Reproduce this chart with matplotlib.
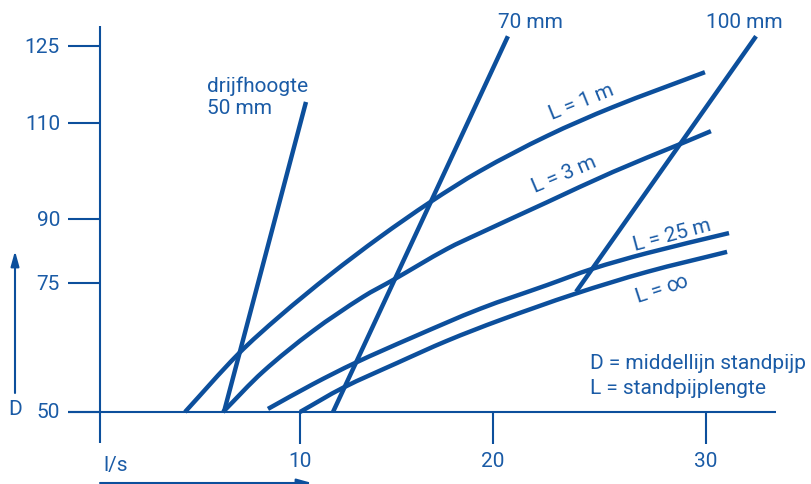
import numpy as np
import matplotlib
matplotlib.use("Agg")
import matplotlib.pyplot as plt
from matplotlib.lines import Line2D
from matplotlib.path import Path
from matplotlib.patches import PathPatch
from matplotlib.transforms import IdentityTransform

plt.rcParams['font.family'] = ['Roboto', 'DejaVu Sans']

# ---------------- data ----------------
x_ticks = [10, 20, 30]
y_ticks = [50, 75, 90, 110, 125]

# drijfhoogte lines (l/s, D)
h50_x = [6.06, 10.31]
h50_y = [50, 114.1]
h70_x = [11.71, 20.70]
h70_y = [50, 126.9]
h100_x = [23.90, 32.35]
h100_y = [73.3, 126.9]

# standpipe length curves
L1_x = [4.04, 6.79, 8.96, 11.55, 14.15, 16.74, 19.33, 22.54, 25.63, 29.95]
L1_y = [50, 61.2, 68.6, 76.9, 85.8, 93.5, 100.0, 107.3, 113.1, 119.9]
L3_x = [6.01, 8.08, 10.67, 13.26, 14.82, 17.62, 19.33, 22.54, 25.63, 28.78, 30.23]
L3_y = [50, 57.8, 65.7, 72.3, 75.7, 83.0, 86.7, 93.5, 99.8, 105.6, 108.3]
L25_x = [8.34, 10.67, 12.85, 15.85, 19.33, 22.54, 24.65, 27.23, 31.08]
L25_y = [50.6, 55.4, 59.5, 64.5, 70.0, 74.6, 78.3, 82.0, 86.7]
Linf_x = [10.0, 12.23, 15.03, 17.62, 20.33, 23.85, 27.23, 30.99]
Linf_y = [50, 54.7, 59.5, 63.8, 67.8, 72.9, 77.6, 82.3]

# ---------------- layout ----------------
W, H = 812, 485
LINE = '#0c4f9c'
TXT = '#1a5ba6'
FS = 15

# piecewise-linear axis scales (tick value -> pixel)
x_knots_px = [300, 493, 706]
y_knots_px = [413, 284, 220, 124, 47]


def make_pw(d, p):
    d = np.asarray(d, float)
    p = np.asarray(p, float)

    def f(v):
        v = np.asarray(v, float)
        out = np.interp(v, d, p)
        out = np.where(v < d[0], p[0] + (v - d[0]) * (p[1] - p[0]) / (d[1] - d[0]), out)
        out = np.where(v > d[-1], p[-1] + (v - d[-1]) * (p[-1] - p[-2]) / (d[-1] - d[-2]), out)
        return out
    return f


xd = np.array(x_ticks, float)
xp = np.array(x_knots_px, float)
yd = np.array(y_ticks, float)
yp = H - np.array(y_knots_px, float)  # display (upward)

xf, xi = make_pw(xd, xp), make_pw(xp, xd)
yf, yi = make_pw(yd, yp), make_pw(yp, yd)

fig = plt.figure(figsize=(W / 100, H / 100), dpi=100)
ax = fig.add_axes([0, 0, 1, 1])
ax.set_xscale('function', functions=(xf, xi))
ax.set_yscale('function', functions=(yf, yi))
ax.set_xlim(float(xi(0)), float(xi(W)))
ax.set_ylim(float(yi(0)), float(yi(H)))
ax.axis('off')


def fx(px):
    return px / W


def fy(py):
    return 1 - py / H


def fline(x0, y0, x1, y1, lw=1.5):
    fig.add_artist(Line2D([fx(x0), fx(x1)], [fy(y0), fy(y1)], color=LINE, lw=lw,
                          solid_capstyle='butt'))


def smooth_curve(xs, ys, **kw):
    """Draw a smooth curve through the data points (mapped by the axes scales)."""
    P = ax.transData.transform(np.column_stack([xs, ys]))
    n = len(P)
    if n < 3:
        ax.plot(xs, ys, **kw)
        return
    t = np.concatenate([[0], np.cumsum(np.hypot(*np.diff(P, axis=0).T))])
    m = np.zeros_like(P)
    m[0] = (P[1] - P[0]) / (t[1] - t[0])
    m[-1] = (P[-1] - P[-2]) / (t[-1] - t[-2])
    for i in range(1, n - 1):
        m[i] = (P[i + 1] - P[i - 1]) / (t[i + 1] - t[i - 1])
    verts = [P[0]]
    codes = [Path.MOVETO]
    for i in range(n - 1):
        h = t[i + 1] - t[i]
        verts += [P[i] + m[i] * h / 3, P[i + 1] - m[i + 1] * h / 3, P[i + 1]]
        codes += [Path.CURVE4] * 3
    patch = PathPatch(Path(verts, codes), fill=False, edgecolor=kw['color'],
                      lw=kw['lw'], capstyle='butt', joinstyle='round',
                      transform=IdentityTransform())
    ax.add_patch(patch)


# axes
fline(68, 413, 776, 413)
fline(100, 27, 100, 444)

# y ticks
ytr = ax.get_yaxis_transform()
for v in y_ticks:
    ax.plot([fx(68), fx(100)], [v, v], color=LINE, lw=1.5, transform=ytr,
            solid_capstyle='butt')
    ax.text(fx(60), v, str(v), transform=ytr, ha='right', va='center',
            fontsize=FS, color=TXT)

# x ticks
xtr = ax.get_xaxis_transform()
for v in x_ticks:
    ax.plot([v, v], [fy(413), fy(445)], color=LINE, lw=1.5, transform=xtr,
            solid_capstyle='butt')
    ax.text(v, fy(462), str(v), transform=xtr, ha='center', va='center',
            fontsize=FS, color=TXT)

# curves
kw = dict(color=LINE, lw=3.2)
for xs, ys in [(h50_x, h50_y), (h70_x, h70_y), (h100_x, h100_y)]:
    ax.plot(xs, ys, solid_capstyle='butt', **kw)
for xs, ys in [(L1_x, L1_y), (L3_x, L3_y), (L25_x, L25_y), (Linf_x, Linf_y)]:
    smooth_curve(xs, ys, **kw)

# labels
fig.text(fx(207), fy(86), 'drijfhoogte', ha='left', va='center', fontsize=FS, color=TXT)
fig.text(fx(207), fy(108), '50 mm', ha='left', va='center', fontsize=FS, color=TXT)
fig.text(fx(530), fy(22), '70 mm', ha='center', va='center', fontsize=FS, color=TXT)
fig.text(fx(744), fy(22), '100 mm', ha='center', va='center', fontsize=FS, color=TXT)

fig.text(fx(581), fy(102), 'L = 1 m', ha='center', va='center', fontsize=FS,
         color=TXT, rotation=22, rotation_mode='anchor')
fig.text(fx(564), fy(175), 'L = 3 m', ha='center', va='center', fontsize=FS,
         color=TXT, rotation=23, rotation_mode='anchor')
fig.text(fx(672), fy(235), 'L = 25 m', ha='center', va='center', fontsize=FS,
         color=TXT, rotation=15, rotation_mode='anchor')
fig.text(fx(662), fy(289), 'L = ∞', ha='center', va='center', fontsize=FS,
         color=TXT, rotation=18, rotation_mode='anchor')

fig.text(fx(590), fy(364), 'D = middellijn standpijp', ha='left', va='center',
         fontsize=FS, color=TXT)
fig.text(fx(590), fy(388), 'L = standpijplengte', ha='left', va='center',
         fontsize=FS, color=TXT)

# axis names with arrows
fig.text(fx(103), fy(466), 'l/s', ha='left', va='center', fontsize=FS, color=TXT)
fig.text(fx(15), fy(410), 'D', ha='center', va='center', fontsize=FS, color=TXT)
ax.annotate('', xy=(fx(312), fy(484)), xytext=(fx(100), fy(484)),
            xycoords='figure fraction', textcoords='figure fraction',
            arrowprops=dict(arrowstyle='-|>,head_length=0.9,head_width=0.25',
                            color=LINE, lw=1.5, shrinkA=0, shrinkB=0))
ax.annotate('', xy=(fx(15), fy(252)), xytext=(fx(15), fy(394)),
            xycoords='figure fraction', textcoords='figure fraction',
            arrowprops=dict(arrowstyle='-|>,head_length=0.9,head_width=0.25',
                            color=LINE, lw=1.5, shrinkA=0, shrinkB=0))

fig.savefig('out.png', dpi=100)
